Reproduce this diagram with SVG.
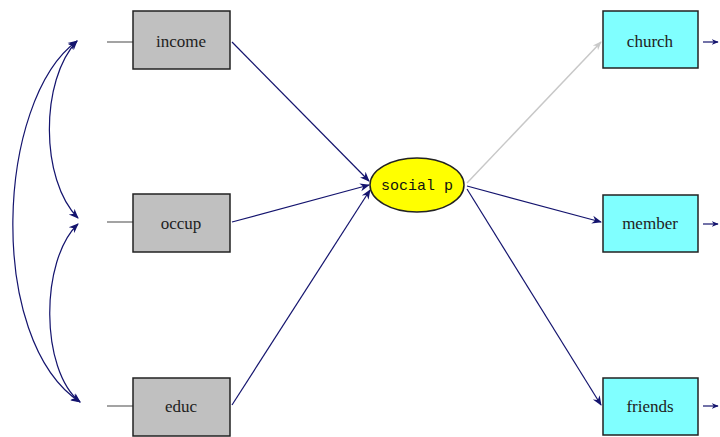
<svg xmlns="http://www.w3.org/2000/svg" width="720" height="437" viewBox="0 0 720 437">
<defs>
<marker id="ah" viewBox="0 0 10 10" refX="9" refY="5" markerWidth="10" markerHeight="10" orient="auto-start-reverse" markerUnits="userSpaceOnUse">
<path d="M0,1 L10,5 L0,9 L3,5 z" fill="#14146e"/>
</marker>
<marker id="ahs" viewBox="0 0 10 10" refX="9" refY="5" markerWidth="7" markerHeight="7" orient="auto" markerUnits="userSpaceOnUse">
<path d="M0,1 L10,5 L0,9 L3,5 z" fill="#14146e"/>
</marker>
<marker id="ahg" viewBox="0 0 10 10" refX="9" refY="5" markerWidth="9" markerHeight="9" orient="auto" markerUnits="userSpaceOnUse">
<path d="M0,1 L10,5 L0,9 L3,5 z" fill="#c8c8c8"/>
</marker>
<style>
.x{fill:#c0c0c0;stroke:#222;stroke-width:1.5}
.y{fill:#80ffff;stroke:#222;stroke-width:1.5}
.t{font-family:"Liberation Serif",serif;font-size:17px;fill:#222;text-anchor:middle}
.c{fill:none;stroke:#14146e;stroke-width:1.2}
.s{stroke:#666;stroke-width:1.2}
</style>
</defs>
<rect width="720" height="437" fill="#fff"/>
<g id="connectors">
<path class="c" d="M77,41 C-4,100 -14,340 80,402" marker-start="url(#ah)" marker-end="url(#ah)"/>
<path class="c" d="M77,41 C40,80 40,180 78,218" marker-start="url(#ah)" marker-end="url(#ah)"/>
<path class="c" d="M78,224 C40,260 40,370 80,402" marker-start="url(#ah)" marker-end="url(#ah)"/>
<line class="s" x1="107" y1="42" x2="133" y2="42"/>
<line class="s" x1="107" y1="222" x2="133" y2="222"/>
<line class="s" x1="107" y1="406" x2="133" y2="406"/>
<line class="c" x1="232" y1="42" x2="369" y2="181" marker-end="url(#ah)"/>
<line class="c" x1="232" y1="222" x2="369" y2="185" marker-end="url(#ah)"/>
<line class="c" x1="232" y1="405" x2="370" y2="190" marker-end="url(#ah)"/>
<line x1="467" y1="183" x2="601" y2="42" stroke="#c8c8c8" stroke-width="1.5" marker-end="url(#ahg)"/>
<line class="c" x1="467" y1="186" x2="601" y2="222" marker-end="url(#ah)"/>
<line class="c" x1="467" y1="189" x2="601" y2="405" marker-end="url(#ah)"/>
<line class="c" x1="703" y1="42" x2="718" y2="42" stroke-width="1.6" marker-end="url(#ahs)"/>
<line class="c" x1="703" y1="224" x2="718" y2="224" stroke-width="1.6" marker-end="url(#ahs)"/>
<line class="c" x1="703" y1="406" x2="718" y2="406" stroke-width="1.6" marker-end="url(#ahs)"/>
</g>
<g id="income"><rect class="x" x="133" y="11" width="97" height="58"/><text class="t" x="181" y="47">income</text></g>
<g id="occup"><rect class="x" x="133" y="194" width="97" height="58"/><text class="t" x="181" y="229">occup</text></g>
<g id="educ"><rect class="x" x="133" y="378" width="97" height="58"/><text class="t" x="181" y="412">educ</text></g>
<g id="social_p"><ellipse cx="417" cy="185" rx="47" ry="27" fill="#ffff00" stroke="#222" stroke-width="1.5"/><text x="417" y="190" font-family="'Liberation Mono',monospace" font-size="15" fill="#111" text-anchor="middle">social p</text></g>
<g id="church"><rect class="y" x="603" y="11" width="95" height="57"/><text class="t" x="650" y="47">church</text></g>
<g id="member"><rect class="y" x="603" y="195" width="95" height="57"/><text class="t" x="650" y="229">member</text></g>
<g id="friends"><rect class="y" x="603" y="378" width="95" height="57"/><text class="t" x="650" y="412">friends</text></g>
</svg>
